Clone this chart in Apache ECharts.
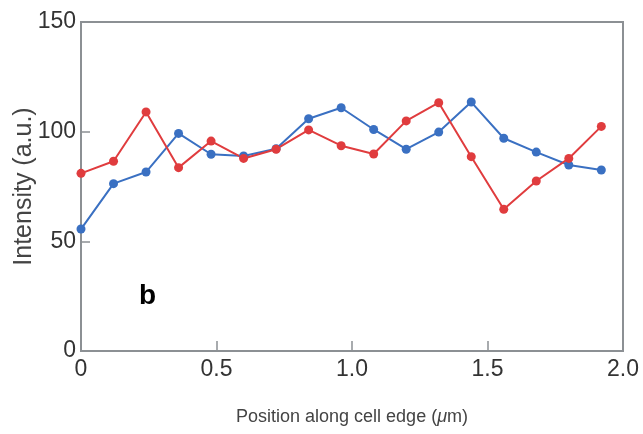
<!DOCTYPE html>
<html>
<head>
<meta charset="utf-8">
<script src="https://cdn.jsdelivr.net/npm/echarts@6/dist/echarts.min.js"></script>
<style>html,body{margin:0;padding:0;background:#fff;}#c{width:643px;height:434px;}</style>
</head>
<body>
<div id="c"></div>
<script>
const positions = [0, 0.12, 0.24, 0.36, 0.48, 0.60, 0.72, 0.84, 0.96, 1.08, 1.20, 1.32, 1.44, 1.56, 1.68, 1.80, 1.92];
const blueValues = [55.6, 76.3, 81.6, 99.2, 89.7, 88.9, 92.2, 105.9, 110.9, 101, 92, 99.8, 113.5, 97, 90.7, 84.8, 82.5];
const redValues = [81, 86.5, 109, 83.6, 95.7, 87.8, 92, 100.8, 93.6, 89.8, 104.9, 113.2, 88.6, 64.6, 77.5, 87.8, 102.4];
const xTicks = [0, 0.5, 1.0, 1.5, 2.0];
const yTicks = [0, 50, 100, 150];

const chart = echarts.init(document.getElementById('c'));
const font = 'Liberation Sans, Arial, Helvetica, sans-serif';
const axisColor = '#8c9094';
chart.setOption({
  animation: false,
  grid: { left: 81, top: 22, right: 20, bottom: 83, outerBoundsMode: 'none', containLabel: false,
    show: true, borderColor: axisColor, borderWidth: 2, backgroundColor: 'transparent' },
  xAxis: {
    type: 'value', min: 0, max: 2, interval: 0.5,
    axisLine: { show: true, lineStyle: { color: axisColor, width: 2 } },
    axisTick: { show: true, inside: true, length: 10, lineStyle: { color: axisColor, width: 1.5 } },
    splitLine: { show: false },
    axisLabel: { color: '#333', fontSize: 23, fontFamily: font, margin: 7,
      formatter: v => { const t = xTicks.find(x => Math.abs(x - v) < 1e-9); return t === 0 ? '0' : t.toFixed(1); } },
    name: '{n|Position along cell edge (}{i|μ}{n|m)}',
    nameLocation: 'middle', nameGap: 57, nameMoveOverlap: false,
    nameTextStyle: { rich: { n: { fontSize: 18, color: '#444', fontFamily: font }, i: { fontSize: 18, color: '#444', fontFamily: font, fontStyle: 'italic' } } }
  },
  yAxis: {
    type: 'value', min: 0, max: 150, interval: 50,
    axisLine: { show: true, lineStyle: { color: axisColor, width: 2 } },
    axisTick: { show: true, inside: true, length: 9, lineStyle: { color: axisColor, width: 1.5 } },
    splitLine: { show: false },
    axisLabel: { color: '#333', fontSize: 23, fontFamily: font, margin: 5, formatter: v => String(yTicks.find(y => y === v)) },
    name: 'Intensity (a.u.)', nameLocation: 'middle', nameGap: 44, nameMoveOverlap: false,
    nameTextStyle: { fontSize: 25, color: '#444', fontFamily: font }
  },
  graphic: [{ type: 'text', left: 139, top: 282, style: { text: 'b', font: 'bold 28px ' + font, fill: '#000' } }],
  series: [
    { type: 'line', data: positions.map((x, i) => [x, blueValues[i]]), symbol: 'circle', symbolSize: 9,
      lineStyle: { color: '#3a70c2', width: 2 }, itemStyle: { color: '#3a70c2' } },
    { type: 'line', data: positions.map((x, i) => [x, redValues[i]]), symbol: 'circle', symbolSize: 9,
      lineStyle: { color: '#e03c3e', width: 2 }, itemStyle: { color: '#e03c3e' } }
  ]
});
</script>
</body>
</html>
